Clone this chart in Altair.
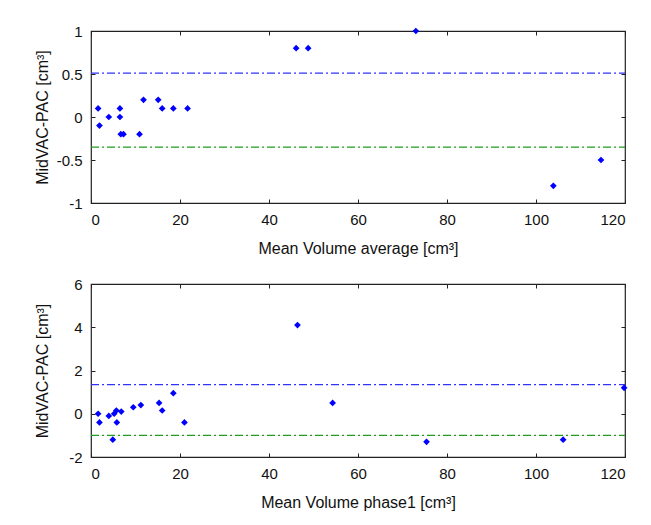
import altair as alt
import pandas as pd

# ---- data ----
top_x = [1.6, 1.9, 4.0, 6.5, 6.5, 6.7, 7.3, 10.9, 11.8, 15.1, 16.0, 18.5, 21.7,
         46.1, 48.8, 73.0, 103.9, 114.6]
top_y = [0.1, -0.1, 0.0, 0.1, 0.0, -0.2, -0.2, -0.2, 0.2, 0.2, 0.1, 0.1, 0.1,
         0.8, 0.8, 1.0, -0.8, -0.5]
top_upper = 0.51
top_lower = -0.35

bot_x = [1.6, 1.9, 4.0, 4.9, 5.2, 5.7, 5.8, 6.8, 9.5, 11.2, 15.3, 16.0, 18.5, 21.0,
         46.4, 54.3, 75.4, 106.1, 119.8]
bot_y = [0.0, -0.4, -0.1, -1.2, 0.0, 0.15, -0.4, 0.1, 0.3, 0.4, 0.5, 0.15, 0.95, -0.4,
         4.1, 0.5, -1.3, -1.2, 1.2]
bot_upper = 1.35
bot_lower = -1.0

x_domain = [0, 120]
x_ticks = [0, 20, 40, 60, 80, 100, 120]
top_y_domain = [-1, 1]
top_y_ticks = [-1, -0.5, 0, 0.5, 1]
bot_y_domain = [-2, 6]
bot_y_ticks = [-2, 0, 2, 4, 6]

FONT = "Liberation Sans"
LABEL_EXPR = "datum.value < 0 ? '-' + format(-datum.value, '~g') : format(datum.value, '~g')"
TICK = 4
DASH = [8, 3, 2, 3]


def panel(xs, ys, upper, lower, ydom, yticks, xtitle, w, h):
    pts = pd.DataFrame({"x": xs, "y": ys})
    up = pd.DataFrame({"x0": [x_domain[0]], "x1": [x_domain[1]], "v": [upper]})
    lo = pd.DataFrame({"x0": [x_domain[0]], "x1": [x_domain[1]], "v": [lower]})
    xsc = alt.Scale(domain=x_domain, nice=False, zero=False)
    ysc = alt.Scale(domain=ydom, nice=False, zero=False)

    points = alt.Chart(pts).mark_point(
        shape="diamond", filled=True, size=45, color="#0000ff", opacity=1
    ).encode(
        x=alt.X("x:Q", scale=xsc, axis=alt.Axis(
            orient="bottom", values=x_ticks, ticks=False, domain=False, grid=False,
            labelPadding=9, labelExpr=LABEL_EXPR, title=xtitle, titlePadding=13)),
        y=alt.Y("y:Q", scale=ysc, axis=alt.Axis(
            orient="left", values=yticks, ticks=False, domain=False, grid=False,
            labelPadding=9, labelExpr=LABEL_EXPR, title="MidVAC-PAC [cm³]",
            titleX=-44, titleY=h / 2, titleBaseline="alphabetic", titleAngle=270)),
    )

    upper_line = alt.Chart(up).mark_rule(
        color="#3030ff", strokeWidth=1.3, strokeDash=DASH
    ).encode(
        x=alt.X("x0:Q", scale=xsc, axis=alt.Axis(
            orient="bottom", values=x_ticks, offset=-TICK, tickSize=TICK, labels=False,
            domain=False, grid=False, title=None, tickColor="#222")),
        x2="x1:Q",
        y=alt.Y("v:Q", scale=ysc, axis=alt.Axis(
            orient="left", values=yticks, offset=-TICK, tickSize=TICK, labels=False,
            domain=False, grid=False, title=None, tickColor="#222")),
    )

    lower_line = alt.Chart(lo).mark_rule(
        color="#1f9f1f", strokeWidth=1.3, strokeDash=DASH
    ).encode(
        x=alt.X("x0:Q", scale=xsc, axis=alt.Axis(
            orient="top", values=x_ticks, offset=-TICK, tickSize=TICK, labels=False,
            domain=False, grid=False, title=None, tickColor="#222")),
        x2="x1:Q",
        y=alt.Y("v:Q", scale=ysc, axis=alt.Axis(
            orient="right", values=yticks, offset=-TICK, tickSize=TICK, labels=False,
            domain=False, grid=False, title=None, tickColor="#222")),
    )

    return alt.layer(upper_line, lower_line, points).resolve_axis(
        x="independent", y="independent"
    ).properties(width=w, height=h)


top = panel(top_x, top_y, top_upper, top_lower, top_y_domain, top_y_ticks,
            "Mean Volume average [cm³]", 534, 172)
bot = panel(bot_x, bot_y, bot_upper, bot_lower, bot_y_domain, bot_y_ticks,
            "Mean Volume phase1 [cm³]", 534, 173)

chart = alt.vconcat(top, bot, spacing=19).properties(
    padding={"left": 25, "top": 15, "right": 10, "bottom": 5},
    background="white",
).configure_view(
    stroke="#222", strokeWidth=1.2
).configure_axis(
    labelFont=FONT, titleFont=FONT, labelFontSize=15, titleFontSize=16,
    labelColor="#111", titleColor="#111", titleFontWeight="normal"
)

chart.save("out.html", embed_options={"renderer": "svg", "actions": False})
